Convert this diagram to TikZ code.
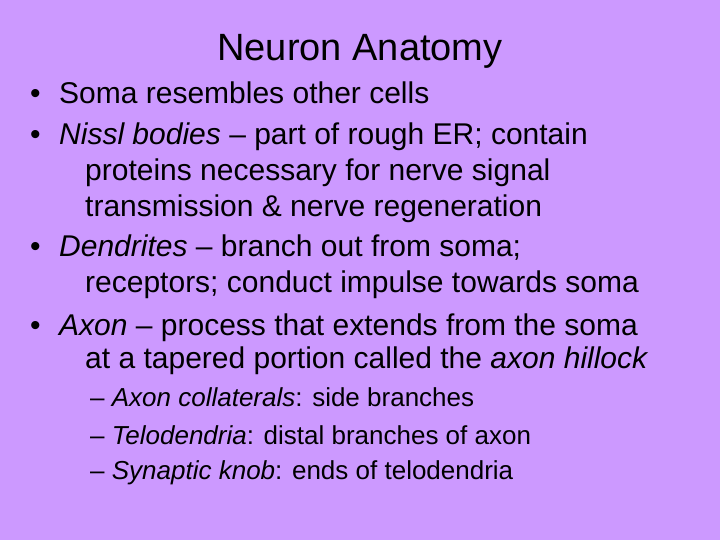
\documentclass[tikz,border=0pt]{standalone}
\usepackage{fontspec}
\setmainfont{Liberation Sans}
\definecolor{bg}{RGB}{204,153,255}
\begin{document}
\begin{tikzpicture}[x=1pt,y=-1pt,
  ln/.style={anchor=base west,inner sep=0pt,font=\fontsize{30}{36}\selectfont},
  sub/.style={anchor=base west,inner sep=0pt,font=\fontsize{26}{30}\selectfont},
  ttl/.style={anchor=base,inner sep=0pt,font=\fontsize{38}{44}\selectfont}]
\fill[bg] (0,0) rectangle (720,540);
\useasboundingbox (0,0) rectangle (720,540);
\node[ttl] (t) at (360,61) {Neuron Anatomy};
\node[ln] (b1) at (30,104) {•};
\node[ln] (l1) at (59,104) {Soma resembles other cells};
\node[ln] (b2) at (30,145) {•};
\node[ln] (l2) at (59,145) {\textit{Nissl bodies} – part of rough ER; contain};
\node[ln] (l3) at (85,181) {proteins necessary for nerve signal};
\node[ln] (l4) at (85,217) {transmission \& nerve regeneration};
\node[ln] (b3) at (30,256) {•};
\node[ln] (l5) at (59,256) {\textit{Dendrites} – branch out from soma;};
\node[ln] (l6) at (85,292) {receptors; conduct impulse towards soma};
\node[ln] (b4) at (30,335) {•};
\node[ln] (l7) at (59,335) {\textit{Axon} – process that extends from the soma};
\node[ln] (l8) at (85,368) {at a tapered portion called the \textit{axon hillock}};
\node[sub] (s1) at (90,406) {– \textit{Axon collaterals}: side branches};
\node[sub] (s2) at (90,444) {– \textit{Telodendria}: distal branches of axon};
\node[sub] (s3) at (90,479) {– \textit{Synaptic knob}: ends of telodendria};
\end{tikzpicture}
\end{document}
